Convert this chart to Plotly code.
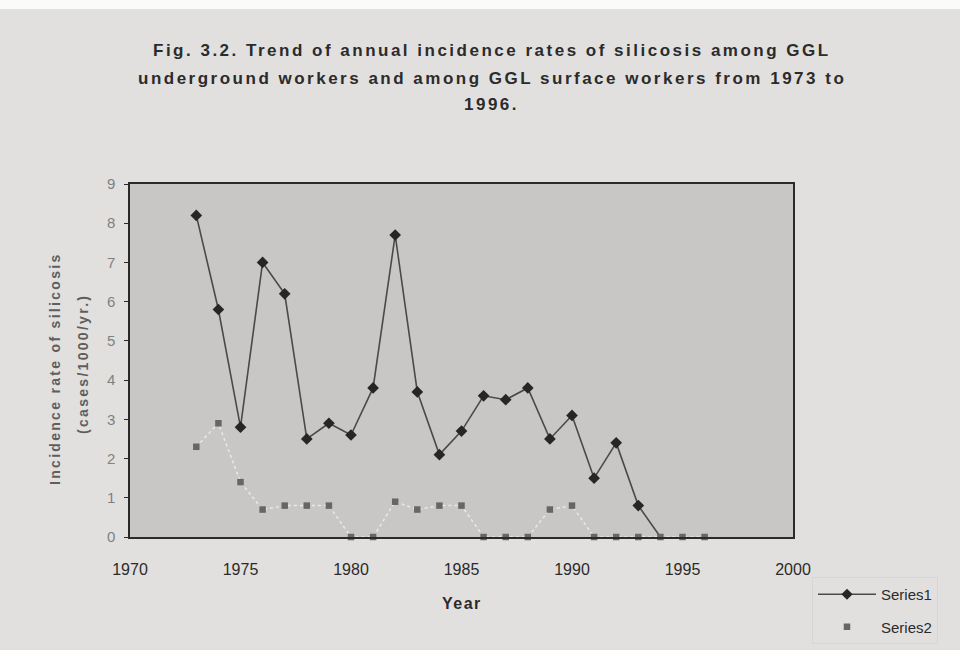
import plotly.graph_objects as go

years1 = list(range(1973, 1995))
series1 = [8.2, 5.8, 2.8, 7.0, 6.2, 2.5, 2.9, 2.6, 3.8, 7.7, 3.7, 2.1,
           2.7, 3.6, 3.5, 3.8, 2.5, 3.1, 1.5, 2.4, 0.8, 0.0]
years2 = list(range(1973, 1997))
series2 = [2.3, 2.9, 1.4, 0.7, 0.8, 0.8, 0.8, 0.0, 0.0, 0.9, 0.7, 0.8,
           0.8, 0.0, 0.0, 0.0, 0.7, 0.8, 0.0, 0.0, 0.0, 0.0, 0.0, 0.0]
x_ticks = [1970, 1975, 1980, 1985, 1990, 1995, 2000]
y_ticks = list(range(0, 10))
title_lines = [
    "Fig. 3.2. Trend of annual incidence rates of silicosis among GGL",
    "underground workers and among GGL surface workers from 1973 to",
    "1996.",
]
ytitle_lines = ["Incidence rate of silicosis", "(cases/1000/yr.)"]

FONT = "Liberation Sans, Arial, sans-serif"
INK = "#2b2b2b"

# plot area in pixels: x 130..793, y 184..537
PL, PR, PT, PB = 130, 793, 184, 537
W, H = 960, 650


def px(x):
    return (x - PL) / (PR - PL)


def py(y):
    return (PB - y) / (PB - PT)


def spaced(t, sp):
    return f'<span style="letter-spacing:{sp}px">{t}</span>'


fig = go.Figure()
fig.add_trace(go.Scatter(
    x=years2, y=series2, mode="lines", showlegend=False, hoverinfo="skip",
    line=dict(color="rgba(238,236,233,0.9)", width=1.5, dash="dot"),
))
sizes1 = [9] * (len(series1) - 1) + [0]
fig.add_trace(go.Scatter(
    x=years1, y=series1, mode="lines+markers", name="Series1",
    legendgroup="a",
    line=dict(color="#4a4a4a", width=1.6),
    marker=dict(symbol="diamond", size=sizes1, color="#262626", opacity=1,
                line=dict(width=0)),
    cliponaxis=False,
))
fig.add_trace(go.Scatter(
    x=years2, y=series2, mode="markers", name="Series2",
    legendgroup="b",
    marker=dict(symbol="square", size=6.5, color="#666666", opacity=1,
                line=dict(width=0)),
    cliponaxis=False,
))

annotations = []
for txt, yy in zip(title_lines, [51, 78, 105]):
    annotations.append(dict(
        text="<b>" + spaced(txt, 2.5) + "</b>", xref="paper", yref="paper",
        x=px(492), y=py(yy), xanchor="center", yanchor="middle",
        showarrow=False, font=dict(family=FONT, size=17, color=INK),
    ))
for txt, xx, yy in zip(ytitle_lines, [55, 83], [369, 364]):
    annotations.append(dict(
        text="<b>" + spaced(txt, 2.3) + "</b>", xref="paper", yref="paper",
        x=px(xx), y=py(yy), xanchor="center", yanchor="middle", textangle=-90,
        showarrow=False, font=dict(family=FONT, size=14, color="#5e5e5e"),
    ))
annotations.append(dict(
    text="<b>" + spaced("Year", 1.5) + "</b>", xref="paper", yref="paper",
    x=px(462), y=py(603), xanchor="center", yanchor="middle",
    showarrow=False, font=dict(family=FONT, size=16, color=INK),
))

shapes = [dict(
    type="rect", xref="paper", yref="paper", layer="below",
    x0=px(0), x1=px(W), y0=py(9), y1=py(0),
    fillcolor="#fbfbfa", line=dict(width=0),
)]

fig.update_layout(
    width=W, height=H,
    paper_bgcolor="#e2e0de",
    plot_bgcolor="#c9c7c5",
    margin=dict(l=PL, r=W - PR, t=PT, b=H - PB, autoexpand=False),
    font=dict(family=FONT, size=14, color=INK),
    annotations=annotations,
    shapes=shapes,
    xaxis=dict(
        range=[1970, 2000], tickvals=x_ticks, showgrid=False, zeroline=False,
        showline=True, linecolor="#2a2a2a", linewidth=1.5, mirror=True,
        ticks="", ticklabelstandoff=17,
        tickfont=dict(size=16, color=INK),
    ),
    yaxis=dict(
        range=[0, 9], tickvals=y_ticks, showgrid=False, zeroline=False,
        showline=True, linecolor="#2a2a2a", linewidth=1.5, mirror=True,
        ticks="outside", ticklen=4, tickcolor="#2a2a2a", ticklabelstandoff=6,
        tickfont=dict(size=15, color="#808080"),
    ),
    legend=dict(
        x=px(812), xanchor="left", y=py(644), yanchor="bottom",
        bgcolor="rgba(0,0,0,0)", bordercolor="#d8d6d4", borderwidth=1,
        font=dict(size=15, color=INK), tracegroupgap=10,
        itemwidth=58,
    ),
)

fig.write_html("out.html",
               config={"displayModeBar": False},
               post_script="document.body.style.margin='0';"
                           "document.body.style.overflow='hidden';")
